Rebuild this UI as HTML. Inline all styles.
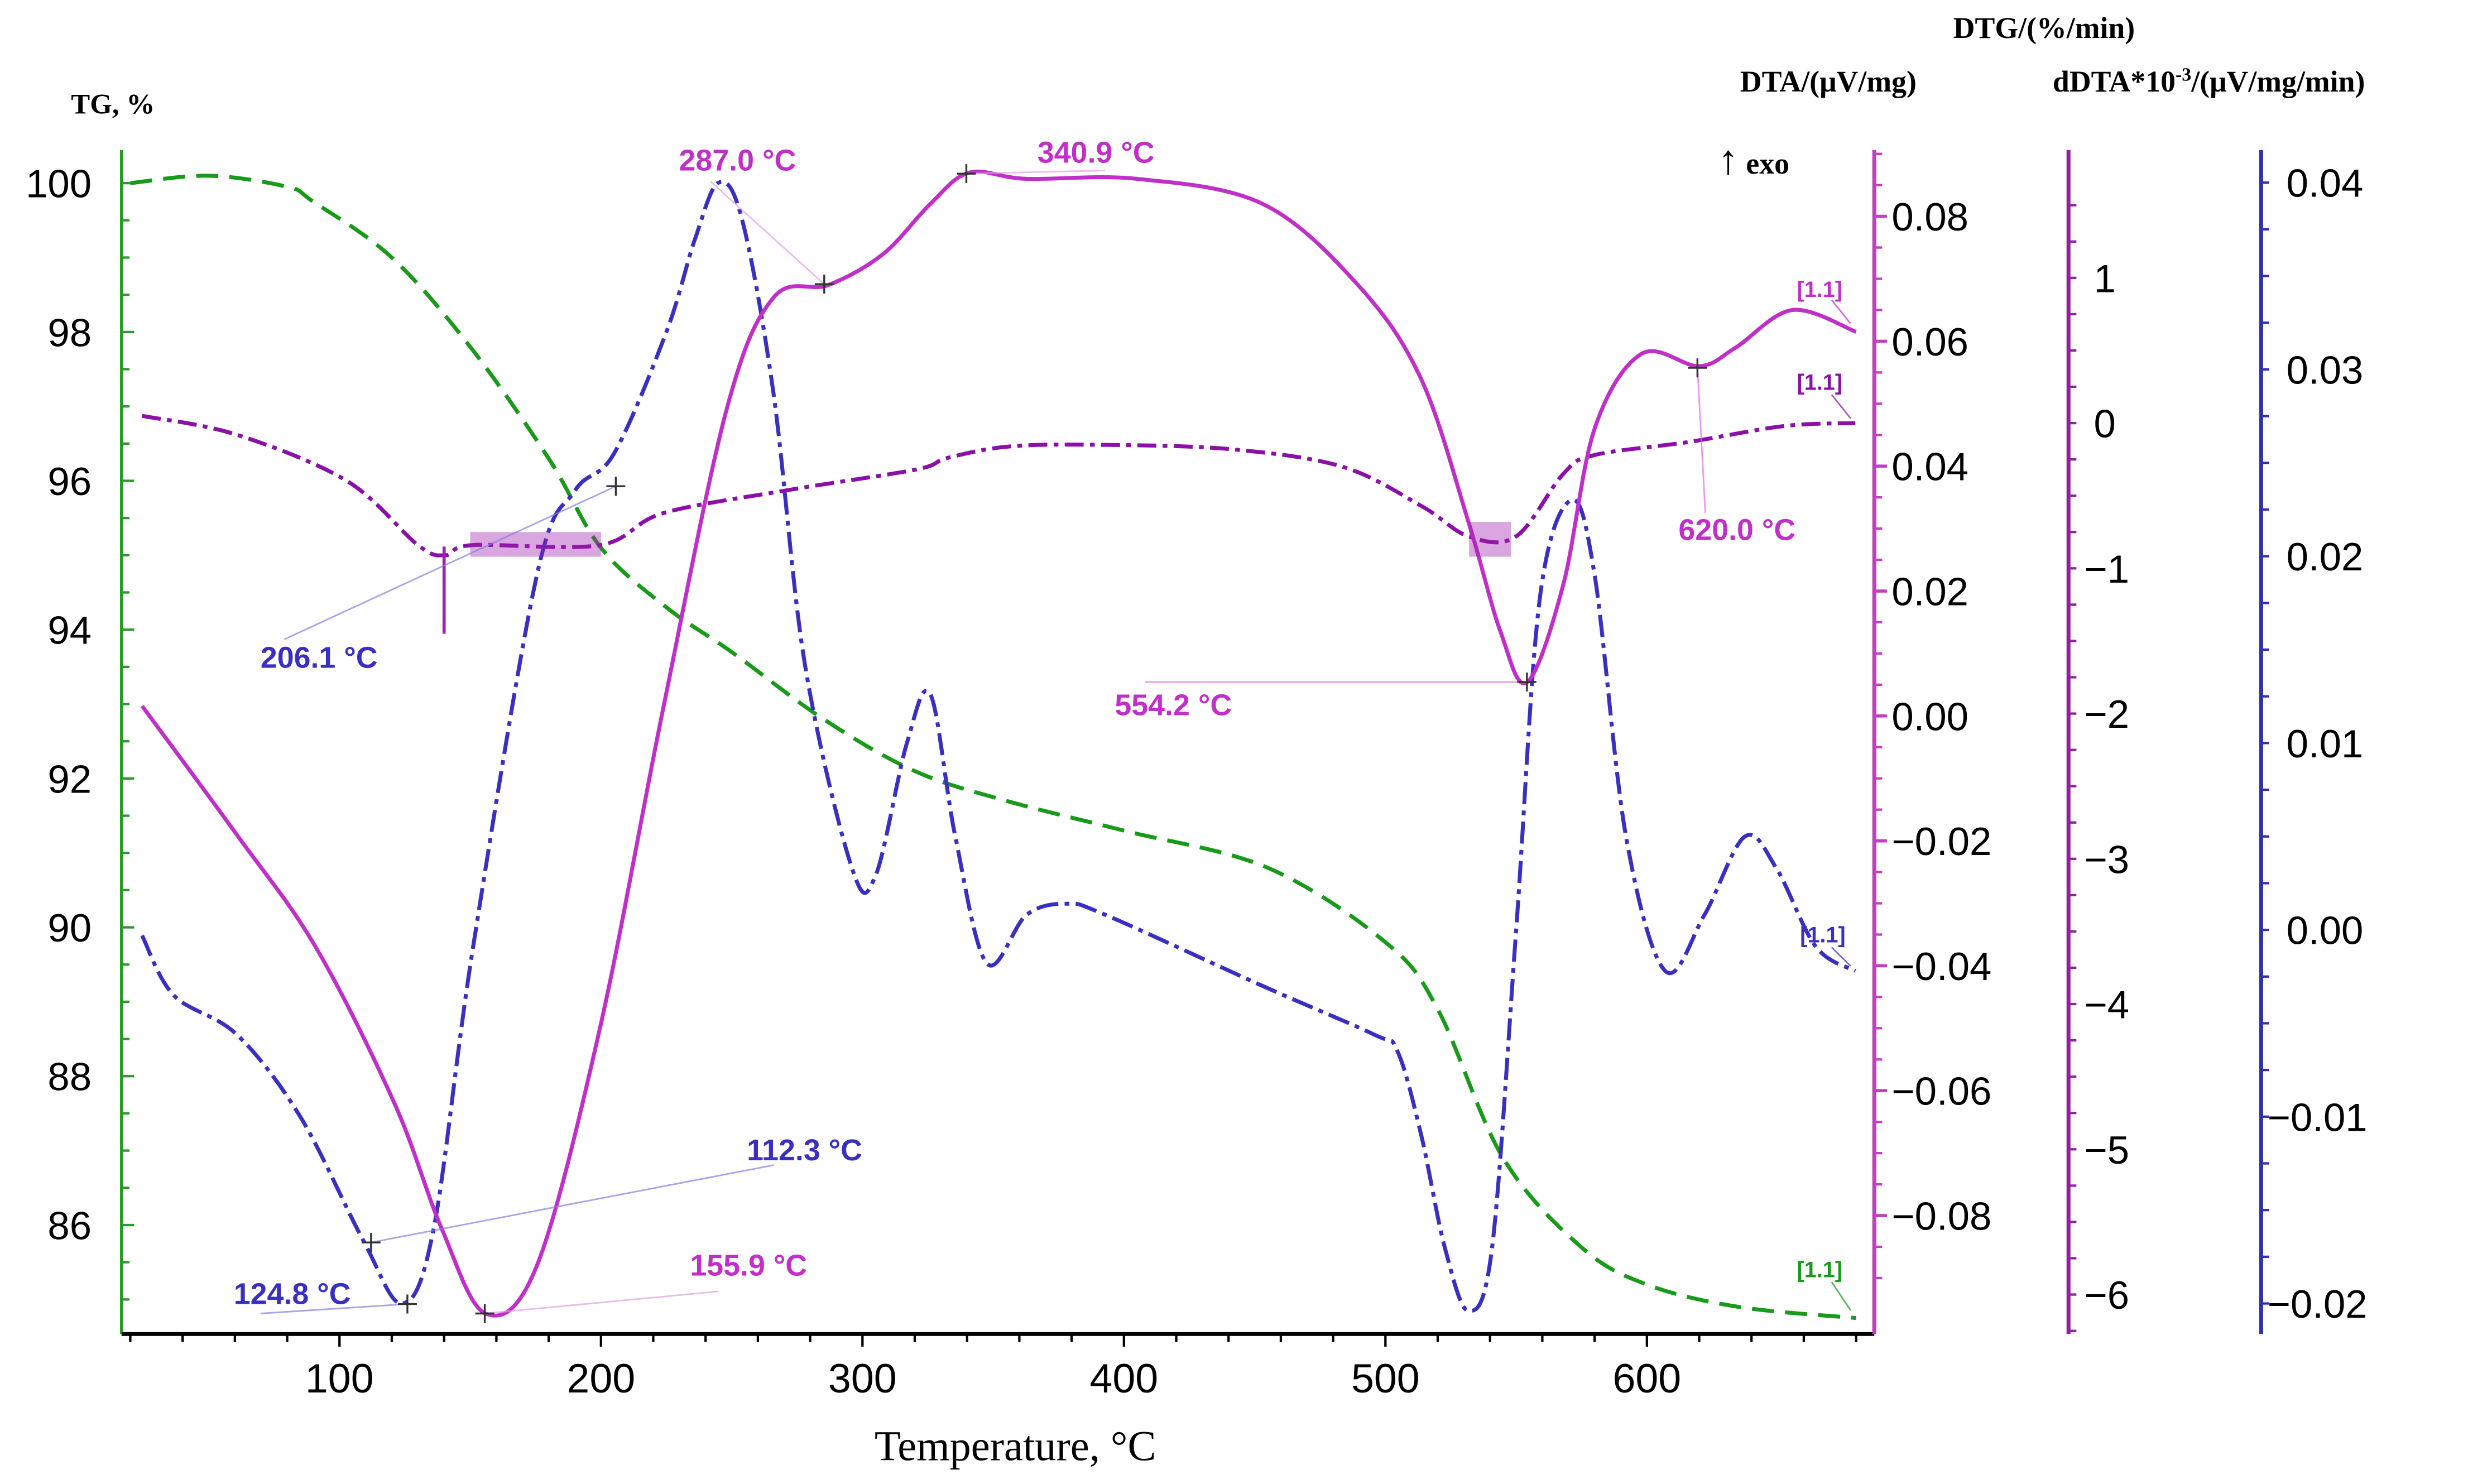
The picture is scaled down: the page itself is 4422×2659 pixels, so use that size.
<!DOCTYPE html>
<html><head><meta charset="utf-8"><style>
html,body{margin:0;padding:0;background:#fff;}
svg{display:block;}
text{font-family:"Liberation Sans",sans-serif;}
.ser{font-family:"Liberation Serif",serif;font-weight:bold;}
</style></head><body>
<svg id="chart" width="4422" height="2659" viewBox="0 0 1563 940" preserveAspectRatio="none" xmlns="http://www.w3.org/2000/svg">
<rect width="1563" height="940" fill="#fff"/>
<g id="axes"></g>
<g id="series"></g>
<g id="annot"></g>
</svg>
<script>
// ---- data ----
const tgT = [20,50,80,90,120,150,180,200,225,250,285,320,355,400,455,500,520,545,575,600,635,680];
const tgV = [100.0,100.1,99.95,99.75,99.0,97.8,96.3,95.1,94.3,93.7,92.8,92.1,91.7,91.3,90.8,89.8,88.9,86.9,85.7,85.2,84.9,84.75];
const dtaT = [24.5,60.7,90.9,121,139,155.9,175.5,199.6,223.7,248,266,287,308,326,340.9,362.7,405,453,489.5,513.6,531.8,544,554.2,568,580,598,620,634,655.6,680];
const dtaV = [0.0016,-0.019,-0.037,-0.062,-0.082,-0.0957,-0.088,-0.050,0.001,0.049,0.067,0.069,0.074,0.082,0.087,0.086,0.086,0.082,0.069,0.054,0.031,0.0135,0.0054,0.021,0.046,0.058,0.056,0.059,0.065,0.0615];
const dtgT = [24.5,60.7,103,130,140.5,151,199.6,223.8,272,320.4,332.5,356.7,393,441,483.5,513.7,531.8,550,568,580,616,652.6,679.7];
const dtgV = [0.05,-0.08,-0.4,-0.84,-0.91,-0.84,-0.84,-0.62,-0.46,-0.32,-0.24,-0.16,-0.15,-0.18,-0.3,-0.57,-0.78,-0.78,-0.35,-0.22,-0.13,-0.02,0.0];
const ddtaT = [24.5,36.6,60.7,85,109,124,136,151,175.5,190,205,225,236,245,254,266,278,296,305,317,326,335.5,347.6,362.7,377.8,393,453,495.6,504.6,513.7,522.7,531.8,540.8,550,559,571,580,592,607,622,637.5,649.5,664.6,679.7];
const ddtaV = [-0.0003,-0.0035,-0.0056,-0.010,-0.0166,-0.020,-0.016,-0.001,0.019,0.0235,0.0255,0.032,0.037,0.040,0.038,0.0287,0.0142,0.0033,0.0029,0.010,0.0126,0.005,-0.0018,0.0008,0.0014,0.0008,-0.003,-0.0056,-0.0065,-0.011,-0.017,-0.0204,-0.017,0.0,0.0177,0.023,0.019,0.005,-0.0022,0.0008,0.005,0.0033,-0.0009,-0.0022];
const xTicks = [100,200,300,400,500,600];
const tgTicks = [100,98,96,94,92,90,88,86];
const dtaTicks = [0.08,0.06,0.04,0.02,0.00,-0.02,-0.04,-0.06,-0.08];
const dtgTicks = [1,0,-1,-2,-3,-4,-5,-6];
const ddtaTicks = [0.04,0.03,0.02,0.01,0.00,-0.01,-0.02];

// ---- scales ----
const X = t => 215 + (t-100)*1.656;
const Ytg = v => 116 + (100-v)*47.14;
const Ydta = v => 453.5 - v*3956;
const Ydtg = v => 268 - v*92;
const Yddta = v => 589 - v*11833;

const NS="http://www.w3.org/2000/svg";
function mk(tag, attrs, parent){const e=document.createElementNS(NS,tag);for(const k in attrs)e.setAttribute(k,attrs[k]);parent.appendChild(e);return e;}
const axes=document.getElementById('axes'), ser=document.getElementById('series'), ann=document.getElementById('annot');

function smooth(pts){
  let d=`M${pts[0][0]},${pts[0][1]}`;
  for(let i=0;i<pts.length-1;i++){
    const p0=pts[Math.max(0,i-1)],p1=pts[i],p2=pts[i+1],p3=pts[Math.min(pts.length-1,i+2)];
    const c1=[p1[0]+(p2[0]-p0[0])/6,p1[1]+(p2[1]-p0[1])/6];
    const c2=[p2[0]-(p3[0]-p1[0])/6,p2[1]-(p3[1]-p1[1])/6];
    d+=` C${c1[0]},${c1[1]} ${c2[0]},${c2[1]} ${p2[0]},${p2[1]}`;
  }
  return d;
}

let e;
e=mk('line',{x1:77,y1:95,x2:77,y2:845,stroke:'#2a9a2a','stroke-width':2},axes);


e=mk('line',{x1:77,y1:845,x2:1187,y2:845,stroke:'#000','stroke-width':2.5},axes);


e=mk('line',{x1:1187,y1:95,x2:1187,y2:845,stroke:'#c040c0','stroke-width':2.5},axes);


e=mk('line',{x1:1310,y1:95,x2:1310,y2:845,stroke:'#9020a0','stroke-width':2.5},axes);


e=mk('line',{x1:1432,y1:95,x2:1432,y2:845,stroke:'#3030b0','stroke-width':2.5},axes);



for(let t=20;t<=680;t+=20){mk('line',{x1:X(t),y1:845,x2:X(t),y2:t%100===0?853:850,stroke:'#000','stroke-width':1.5},axes);}
xTicks.forEach(t=>{e=mk('text',{x:X(t),y:882,'font-size':26,'text-anchor':'middle',fill:'#000'},axes);e.textContent=t;

});
for(let v=100;v>=85;v-=0.5){mk('line',{x1:77,y1:Ytg(v),x2:v%2===0?85:82,y2:Ytg(v),stroke:'#2a9a2a','stroke-width':1.5},axes);}
tgTicks.forEach(v=>{e=mk('text',{x:58,y:Ytg(v)+9,'font-size':25,'text-anchor':'end',fill:'#000'},axes);e.textContent=v;

});
for(let v=0.09;v>=-0.095;v-=0.005){mk('line',{x1:1187,y1:Ydta(v),x2:1192,y2:Ydta(v),stroke:'#c040c0','stroke-width':1.5},axes);}
dtaTicks.forEach(v=>{mk('line',{x1:1187,y1:Ydta(v),x2:1195,y2:Ydta(v),stroke:'#c040c0','stroke-width':2},axes);
e=mk('text',{x:1198,y:Ydta(v)+9,'font-size':25,fill:'#000'},axes);e.textContent=(v<0?'\u2212':'')+Math.abs(v).toFixed(2);

});
for(let v=1.5;v>=-6.3;v-=0.25){mk('line',{x1:1310,y1:Ydtg(v),x2:1315,y2:Ydtg(v),stroke:'#9020a0','stroke-width':1.5},axes);}
dtgTicks.forEach(v=>{e=mk('text',{x:v<0?1320:1326,y:Ydtg(v)+9,'font-size':25,fill:'#000'},axes);e.textContent=(v<0?'\u2212':'')+Math.abs(v);

});
for(let v=0.04;v>=-0.022;v-=0.0025){mk('line',{x1:1432,y1:Yddta(v),x2:1437,y2:Yddta(v),stroke:'#3030b0','stroke-width':1.5},axes);}
ddtaTicks.forEach(v=>{e=mk('text',{x:v<0?1436:1448,y:Yddta(v)+9,'font-size':25,fill:'#000'},axes);e.textContent=(v<0?'\u2212':'')+Math.abs(v).toFixed(2);

});

function title(x,y,txt,name,size,anchor){const t=mk('text',{x:x,y:y,'font-size':size||19,'text-anchor':anchor||'start',fill:'#000',class:'ser'},axes);t.innerHTML=txt;

return t;}
title(45,72,'TG, %','tg-axis-title',18);
title(1102,58,'DTA/(μV/mg)','dta-axis-title',19);
title(1237,24,'DTG/(%/min)','dtg-axis-title',19);
title(1300,58,'dDTA*10<tspan dy="-7" font-size="12">-3</tspan><tspan dy="7">/(μV/mg/min)</tspan>','ddta-axis-title',19);
title(643,925,'Temperature, °C','x-axis-title',27,'middle').style.fontWeight='normal';

function line(T,V,Y,color,dash,name,w){
  const pts=T.map((t,i)=>[X(t),Y(V[i])]);
  const p=mk('path',{d:smooth(pts),fill:'none',stroke:color,'stroke-width':w||2.5,'stroke-dasharray':dash},ser);
  
  
}
line(tgT,tgV,Ytg,'#1a9a1a','14 7','tg-curve');
line(dtgT,dtgV,Ydtg,'#8a10a8','12 4 3 4','dtg-curve');
line(ddtaT,ddtaV,Yddta,'#3a30c0','14 4 3 4','ddta-curve');
line(dtaT,dtaV,Ydta,'#c030c8',null,'dta-curve',2.5);
let nb=mk('rect',{x:X(150),y:Ydtg(-0.75),width:X(200)-X(150),height:Ydtg(-0.92)-Ydtg(-0.75),fill:'#a020b0',opacity:0.4},ser);


nb=mk('rect',{x:X(532),y:Ydtg(-0.68),width:X(548)-X(532),height:Ydtg(-0.92)-Ydtg(-0.68),fill:'#a020b0',opacity:0.4},ser);


nb=mk('line',{x1:X(140),y1:Ydtg(-0.85),x2:X(140),y2:Ydtg(-1.45),stroke:'#a020b0','stroke-width':2},ser);



function lab(x,y,txt,color,name,size){const t=mk('text',{x:x,y:y,'font-size':size||19,'font-weight':'bold',fill:color},ann);t.textContent=txt;

}
function ld(x1,y1,x2,y2,color){mk('line',{x1:x1,y1:y1,x2:x2,y2:y2,stroke:color,'stroke-width':1,opacity:0.7},ann);}
function cross(x,y){mk('path',{d:`M${x-6},${y}H${x+6}M${x},${y-6}V${y+6}`,stroke:'#333','stroke-width':1.2},ann);}
const M='#c030c8',B='#3a30c0';
lab(430,108,'287.0 °C',M,'label-287');ld(450,115,522,180,'#e0a0e0');cross(522,180);
lab(657,103,'340.9 °C',M,'label-340');ld(612,110,700,108,'#e0a0e0');cross(612,110);
lab(165,423,'206.1 °C',B,'label-206');ld(180,405,390,308,'#8080e0');cross(390,308);
lab(706,453,'554.2 °C',M,'label-554');ld(725,432,967,432,'#e070e0');cross(967,432);
lab(1063,342,'620.0 °C',M,'label-620');ld(1075,233,1080,325,'#e070e0');cross(1075,233);
lab(473,735,'112.3 °C',B,'label-112');ld(235,787,490,738,'#8080e0');cross(235,787);
lab(148,826,'124.8 °C',B,'label-124');ld(165,832,258,826,'#8080e0');cross(258,826);
lab(437,808,'155.9 °C',M,'label-155');ld(307,832,455,818,'#e0a0e0');cross(307,832);
const ex=mk('text',{x:1088,y:110,'font-size':19,fill:'#000',class:'ser'},ann);ex.innerHTML='<tspan font-size="26" font-weight="normal">↑</tspan> exo';


lab(1138,188,'[1.1]',M,'tag-dta',14);ld(1160,190,1172,205,M);
lab(1138,247,'[1.1]','#8a10a8','tag-dtg',14);ld(1160,250,1172,265,'#8a10a8');
lab(1140,597,'[1.1]',B,'tag-ddta',14);ld(1160,600,1172,612,B);
lab(1138,809,'[1.1]','#1a9a1a','tag-tg',14);ld(1160,812,1172,830,'#1a9a1a');
</script>
</body></html>
